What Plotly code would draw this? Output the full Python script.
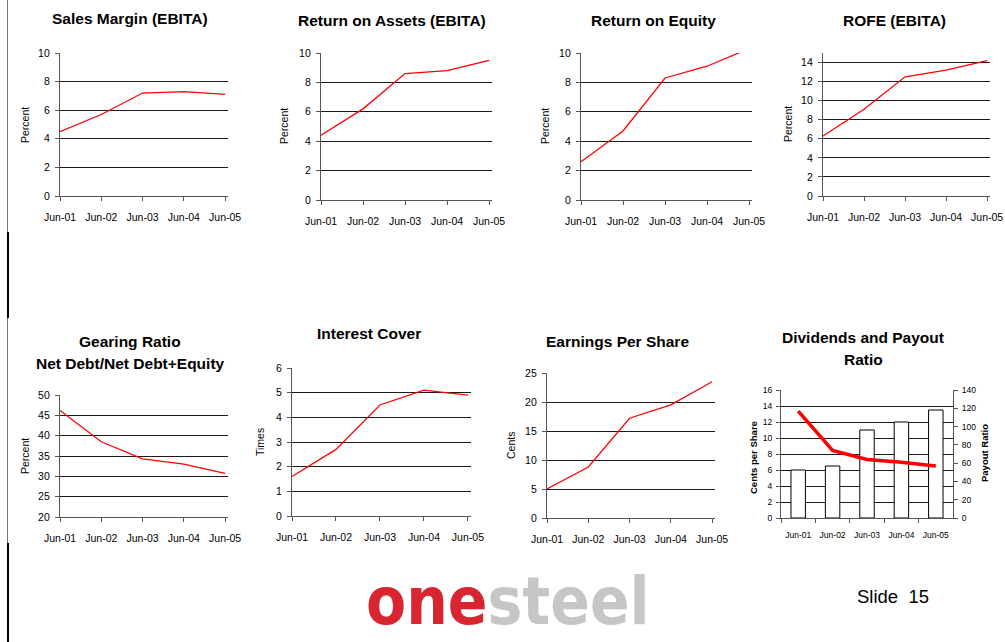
import plotly.graph_objects as go

W, H = 1005, 642

categories = ["Jun-01", "Jun-02", "Jun-03", "Jun-04", "Jun-05"]
sales_margin = [4.5, 5.7, 7.2, 7.3, 7.1]
return_on_assets = [4.4, 6.2, 8.6, 8.8, 9.5]
return_on_equity = [2.6, 4.7, 8.3, 9.1, 10.3]
rofe = [6.3, 9.1, 12.5, 13.2, 14.2]
gearing = [46.2, 38.5, 34.3, 33.0, 30.7]
interest_cover = [1.6, 2.7, 4.5, 5.1, 4.9]
eps = [5.0, 8.8, 17.2, 19.5, 23.5]
dividends = [6.0, 6.5, 11.0, 12.0, 13.5]
payout_ratio = [117, 74, 64, 61, 57]

FONT = "Liberation Sans, Arial, Helvetica, sans-serif"
GRID = "#1a1a1a"
AXIS = "#555555"


def xd(x0, x1):
    return [x0 / W, x1 / W]


def yd(y0, y1):
    return [1 - y1 / H, 1 - y0 / H]


# (series, box[x0,x1,y0,y1], yrange, dtick, title lines, title positions, ytitle, ytitle pos)
charts = [
    (sales_margin, (60, 228, 53, 196), [0, 10], 2, ["Sales Margin (EBITA)"], (130, [19]), "Percent", (25, 125)),
    (return_on_assets, (321, 492, 53, 200), [0, 10], 2, ["Return on Assets (EBITA)"], (392, [20]), "Percent", (284, 126)),
    (return_on_equity, (581, 752, 53, 200), [0, 10], 2, ["Return on Equity"], (653, [20]), "Percent", (545, 126)),
    (rofe, (823, 990, 53, 196), [0, 15], 2, ["ROFE (EBITA)"], (894, [20]), "Percent", (788, 124)),
    (gearing, (60, 228, 395, 517), [20, 50], 5, ["Gearing Ratio", "Net Debt/Net Debt+Equity"], (130, [341, 363]), "Percent", (25, 456)),
    (interest_cover, (292, 471, 368, 516), [0, 6], 1, ["Interest Cover"], (369, [333]), "Times", (260, 442)),
    (eps, (547, 715, 373, 518), [0, 25], 5, ["Earnings Per Share"], (617, [341]), "Cents", (511, 446)),
]

fig = go.Figure()
layout = dict(
    width=W, height=H, margin=dict(l=0, r=0, t=0, b=0, pad=0, autoexpand=False),
    paper_bgcolor="white", plot_bgcolor="white", showlegend=False,
    font=dict(family=FONT, color="black"),
)
annotations = []

for i, (vals, box, yr, dt, tlines, tpos, ytitle, ypos) in enumerate(charts, start=1):
    sfx = "" if i == 1 else str(i)
    fig.add_trace(go.Scatter(
        x=categories, y=vals, mode="lines",
        line=dict(color="#ff0000", width=1.3),
        xaxis="x" + sfx, yaxis="y" + sfx, hoverinfo="skip",
    ))
    x0, x1, y0, y1 = box
    layout["xaxis" + sfx] = dict(
        domain=xd(x0, x1), anchor="y" + sfx, type="category",
        range=[0, 4.07], showgrid=False, zeroline=False, automargin=False,
        showline=True, linecolor=AXIS, linewidth=1.2,
        ticks="outside", ticklen=4, tickcolor=AXIS, tickangle=0,
        tickfont=dict(size=10.5, family=FONT), ticklabelstandoff=7,
    )
    layout["yaxis" + sfx] = dict(
        domain=yd(y0, y1), anchor="x" + sfx, range=yr, dtick=dt,
        showgrid=True, gridcolor=GRID, gridwidth=1, zeroline=False, automargin=False,
        showline=True, linecolor=AXIS, linewidth=1.2,
        ticks="outside", ticklen=4, tickcolor=AXIS,
        tickfont=dict(size=10.5, family=FONT), ticklabelstandoff=3,
    )
    cx, ys = tpos
    for line, yy in zip(tlines, ys):
        annotations.append(dict(
            text="<b>" + line + "</b>", x=cx / W, y=1 - yy / H,
            xref="paper", yref="paper", xanchor="center", yanchor="middle",
            showarrow=False, font=dict(size=15.5, family=FONT),
        ))
    annotations.append(dict(
        text=ytitle, x=ypos[0] / W, y=1 - ypos[1] / H, textangle=-90,
        xref="paper", yref="paper", xanchor="center", yanchor="middle",
        showarrow=False, font=dict(size=10.5, family=FONT),
    ))

# Dividends and payout ratio chart
fig.add_trace(go.Bar(
    x=categories, y=dividends, width=0.42,
    marker=dict(color="white", line=dict(color="black", width=1)),
    xaxis="x8", yaxis="y8", hoverinfo="skip",
))
fig.add_trace(go.Scatter(
    x=categories, y=payout_ratio, mode="lines",
    line=dict(color="#ff0000", width=3.5),
    xaxis="x8", yaxis="y9", hoverinfo="skip",
))
layout["xaxis8"] = dict(
    domain=xd(781, 953), anchor="y8", type="category", range=[-0.5, 4.5],
    showgrid=False, zeroline=False, showline=True, linecolor=AXIS, linewidth=1.2,
    ticks="outside", ticklen=4, tickcolor=AXIS, tickson="boundaries", tickangle=0,
    automargin=False, tickfont=dict(size=8.5, family=FONT), ticklabelstandoff=9,
)
layout["yaxis8"] = dict(
    domain=yd(390, 518), anchor="x8", range=[0, 16], dtick=2,
    showgrid=True, gridcolor=GRID, gridwidth=1, zeroline=False, automargin=False,
    showline=True, linecolor=AXIS, linewidth=1.2,
    ticks="outside", ticklen=4, tickcolor=AXIS,
    tickfont=dict(size=8.5, family=FONT), ticklabelstandoff=2,
)
layout["yaxis9"] = dict(
    domain=yd(390, 518), anchor="x8", overlaying="y8", side="right",
    range=[0, 140], dtick=20, showgrid=False, zeroline=False, automargin=False,
    showline=True, linecolor=AXIS, linewidth=1.2,
    ticks="outside", ticklen=4, tickcolor=AXIS,
    tickfont=dict(size=8.5, family=FONT), ticklabelstandoff=2,
)
for line, yy in zip(["Dividends and Payout", "Ratio"], [338, 359]):
    annotations.append(dict(
        text="<b>" + line + "</b>", x=863 / W, y=1 - yy / H,
        xref="paper", yref="paper", xanchor="center", yanchor="middle",
        showarrow=False, font=dict(size=15.5, family=FONT),
    ))
annotations.append(dict(
    text="<b>Cents per Share</b>", x=753 / W, y=1 - 458 / H, textangle=-90,
    xref="paper", yref="paper", xanchor="center", yanchor="middle",
    showarrow=False, font=dict(size=9.5, family=FONT),
))
annotations.append(dict(
    text="<b>Payout Ratio</b>", x=984 / W, y=1 - 453 / H, textangle=-90,
    xref="paper", yref="paper", xanchor="center", yanchor="middle",
    showarrow=False, font=dict(size=9.5, family=FONT),
))

# Logo and slide number
annotations.append(dict(
    text="<b><span style='color:#d9252f'>one</span><span style='color:#c6c6c6'>steel</span></b>",
    x=508 / W, y=1 - 601 / H, xref="paper", yref="paper",
    xanchor="center", yanchor="middle", showarrow=False,
    font=dict(size=65, family="DejaVu Sans Condensed, Liberation Sans Narrow, Arial Narrow, sans-serif"),
))
annotations.append(dict(
    text="Slide  15", x=855 / W, y=1 - 596 / H, xref="paper", yref="paper",
    xanchor="left", yanchor="middle", showarrow=False,
    font=dict(size=18.5, family=FONT),
))
layout["annotations"] = annotations

layout["shapes"] = [
    dict(type="line", xref="paper", yref="paper", x0=7.5 / W, x1=7.5 / W, y0=0, y1=1,
         line=dict(color="#777777", width=1)),
    dict(type="line", xref="paper", yref="paper", x0=8 / W, x1=8 / W,
         y0=1 - 318 / H, y1=1 - 232 / H, line=dict(color="black", width=2)),
    dict(type="line", xref="paper", yref="paper", x0=8 / W, x1=8 / W,
         y0=0, y1=1 - 543 / H, line=dict(color="black", width=2)),
]

fig.update_layout(**layout)
fig.write_html("out.html")
